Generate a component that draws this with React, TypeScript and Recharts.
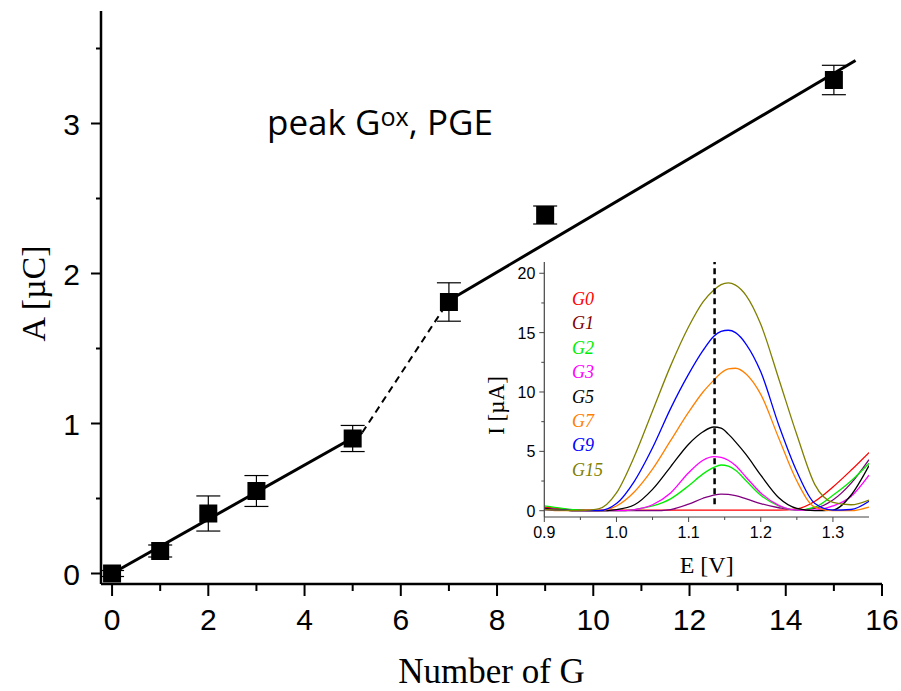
import React from 'react'
import {
  ComposedChart,
  LineChart,
  Line,
  Scatter,
  ErrorBar,
  XAxis,
  YAxis,
  Legend,
  ReferenceLine,
} from 'recharts'

// main panel: integrated charge of the G oxidation peak vs number of G
const numberOfG = [0, 1, 2, 3, 5, 7, 9, 15]
const charge = [0, 0.15, 0.4, 0.55, 0.9, 1.81, 2.39, 3.29]
const chargeErr = [0.02, 0.04, 0.117, 0.103, 0.087, 0.128, 0.06, 0.098]

// linear fits (two regimes joined by a dashed step)
const fitLowX = [0, 5.2]
const fitLowY = [0, 0.94]
const fitStepX = [5.2, 7]
const fitStepY = [0.94, 1.82]
const fitHighX = [7, 15.45]
const fitHighY = [1.82, 3.42]

const mainXTicks = [0, 1, 2, 3, 4, 5, 6, 7, 8, 9, 10, 11, 12, 13, 14, 15, 16]
const mainYTicks = [0, 0.5, 1, 1.5, 2, 2.5, 3, 3.5]

// inset: baseline-corrected voltammograms
const potential = [0.9, 0.925, 0.95, 0.975, 1.0, 1.025, 1.05, 1.075, 1.1, 1.12, 1.135, 1.145, 1.155, 1.165, 1.18, 1.2, 1.225, 1.25, 1.275, 1.3, 1.325, 1.35]
const curG0 = [0.3, 0.15, 0.06, 0.05, 0.05, 0.05, 0.05, 0.05, 0.05, 0.05, 0.05, 0.05, 0.05, 0.05, 0.05, 0.05, 0.05, 0.15, 0.8, 2.0, 3.4, 4.9]
const curG1 = [0.2, 0.1, 0.03, 0, 0, 0, 0, 0.1, 0.55, 1.05, 1.32, 1.4, 1.38, 1.28, 1.0, 0.6, 0.25, 0.05, 0.2, 0.9, 2.3, 4.3]
const curG2 = [0.4, 0.2, 0.05, 0, 0, 0.1, 0.4, 1.0, 2.1, 3.1, 3.65, 3.85, 3.75, 3.4, 2.5, 1.3, 0.4, 0.05, 0.3, 1.3, 2.5, 4.0]
const curG3 = [0.15, 0.05, 0, 0, 0, 0.1, 0.5, 1.5, 3.2, 4.25, 4.55, 4.5, 4.25, 3.8, 2.8, 1.5, 0.45, 0.05, 0.05, 0.4, 1.2, 3.0]
const curG5 = [0.2, 0.05, 0, 0, 0.1, 0.5, 1.8, 3.7, 5.6, 6.65, 7.05, 6.95, 6.45, 5.8, 4.7, 3.0, 1.1, 0.2, 0, 0.05, 1.3, 3.8]
const curG7 = [0.1, 0, 0, 0, 0.4, 1.6, 3.5, 5.9, 8.3, 10.0, 11.0, 11.6, 11.95, 12.0, 11.5, 9.8, 6.1, 2.5, 0.3, 0, 0, 0.3]
const curG9 = [0.1, 0.05, 0, 0, 0.6, 2.5, 5.3, 8.6, 11.5, 13.5, 14.7, 15.1, 15.2, 15.0, 14.0, 11.7, 7.2, 3.3, 0.6, 0.05, 0.1, 0.8]
const curG15 = [0.1, 0.05, 0, 0.15, 1.5, 4.6, 8.4, 12.2, 15.5, 17.6, 18.6, 19.05, 19.2, 19.0, 18.1, 15.7, 11.1, 6.4, 2.2, 0.7, 0.5, 0.9]

const seriesNames = ['G0', 'G1', 'G2', 'G3', 'G5', 'G7', 'G9', 'G15']
const seriesValues = [curG0, curG1, curG2, curG3, curG5, curG7, curG9, curG15]
const seriesColors = ['#ff0000', '#800080', '#00ee00', '#ff00ff', '#000000', '#ff8000', '#0000ff', '#808000']
const labelColors = ['#ff0000', '#800000', '#00ee00', '#ff00ff', '#000000', '#ff8000', '#0000ff', '#808000']

const peakPotential = 1.136
const insetXTicks = [0.9, 0.95, 1.0, 1.05, 1.1, 1.15, 1.2, 1.25, 1.3]
const insetYTicks = [0, 2.5, 5, 7.5, 10, 12.5, 15, 17.5, 20]

const SANS = '"Liberation Sans", Arial, sans-serif'
const SERIF = '"Liberation Serif", "Times New Roman", serif'

const mainPoints = numberOfG.map((x, i) => ({ x, y: charge[i], err: chargeErr[i] }))
const toXY = (xs: number[], ys: number[]) => xs.map((x, i) => ({ x, y: ys[i] }))

const insetData = potential.map((E, i) => {
  const row: Record<string, number> = { E }
  seriesNames.forEach((name, s) => {
    row[name] = seriesValues[s][i]
  })
  return row
})

// ---- tick renderers (tickSize 0 so x/y sit on the axis line) ----
const MainBottomTick = ({ x, y, payload }: any) => {
  const major = payload.value % 2 === 0
  return (
    <g>
      <line x1={x} x2={x} y1={y} y2={y + (major ? 12 : 7)} stroke="#000" strokeWidth={2} />
      {major && (
        <text x={x} y={y + 46} textAnchor="middle" fontSize={30} fontFamily={SANS} fill="#000">
          {payload.value}
        </text>
      )}
    </g>
  )
}

const MainLeftTick = ({ x, y, payload }: any) => {
  const major = Number.isInteger(payload.value)
  return (
    <g>
      <line x1={x - (major ? 10 : 5)} x2={x} y1={y} y2={y} stroke="#000" strokeWidth={2} />
      {major && (
        <text x={x - 21} y={y + 11} textAnchor="end" fontSize={30} fontFamily={SANS} fill="#000">
          {payload.value}
        </text>
      )}
    </g>
  )
}

const MainTopTick = ({ x, y }: any) => <line x1={x} x2={x} y1={y} y2={y + 5} stroke="#000" strokeWidth={1.5} />
const MainRightTick = ({ x, y }: any) => <line x1={x - 5} x2={x} y1={y} y2={y} stroke="#000" strokeWidth={1.5} />

const InsetBottomTick = ({ x, y, payload }: any) => {
  const major = Math.abs(payload.value * 10 - Math.round(payload.value * 10)) < 1e-6
  return (
    <g>
      <line x1={x} x2={x} y1={y} y2={y + (major ? 5 : 3)} stroke="#444" strokeWidth={1} />
      {major && (
        <text x={x} y={y + 21} textAnchor="middle" fontSize={16} fontFamily={SANS} fill="#000">
          {payload.value.toFixed(1)}
        </text>
      )}
    </g>
  )
}

const InsetLeftTick = ({ x, y, payload }: any) => {
  const major = payload.value % 5 === 0
  return (
    <g>
      <line x1={x - (major ? 5 : 3)} x2={x} y1={y} y2={y} stroke="#444" strokeWidth={1} />
      {major && (
        <text x={x - 9} y={y + 6} textAnchor="end" fontSize={16} fontFamily={SANS} fill="#000">
          {payload.value}
        </text>
      )}
    </g>
  )
}

const InsetTopTick = ({ x, y }: any) => <line x1={x} x2={x} y1={y} y2={y + 3} stroke="#444" strokeWidth={1} />
const InsetRightTick = ({ x, y }: any) => <line x1={x - 3} x2={x} y1={y} y2={y} stroke="#444" strokeWidth={1} />

const blank = () => <g />
const squareShape = ({ cx, cy }: any) => <rect x={cx - 9} y={cy - 9} width={18} height={18} fill="#000" />

const InsetLegend = ({ payload }: any) => {
  const items = [...(payload || [])].sort(
    (a: any, b: any) => seriesNames.indexOf(a.value) - seriesNames.indexOf(b.value)
  )
  return (
    <div style={{ fontFamily: SERIF, fontStyle: 'italic', fontSize: 18, lineHeight: '24.4px' }}>
      {items.map((item: any) => {
        const idx = seriesNames.indexOf(item.value)
        return (
          <div key={item.value} style={{ color: labelColors[idx] ?? item.color }}>
            {item.value}
          </div>
        )
      })}
    </div>
  )
}

export default function App() {
  return (
    <div style={{ position: 'absolute', left: 0, top: 0, width: 901, height: 691, background: '#fff' }}>
      <ComposedChart width={901} height={691} margin={{ top: 11, right: 19, bottom: 0, left: 0 }}>
        <XAxis
          dataKey="x"
          type="number"
          domain={[-0.23, 16]}
          ticks={mainXTicks}
          interval={0}
          allowDataOverflow
          height={107}
          tickSize={0}
          tickMargin={0}
          tick={MainBottomTick}
          axisLine={{ stroke: '#000', strokeWidth: 2.5 }}
          label={(props: any) => {
            const vb = props.viewBox
            return (
              <text x={vb.x + vb.width / 2} y={vb.y + 99} textAnchor="middle" fontSize={35} fontFamily={SERIF} fill="#000">
                Number of G
              </text>
            )
          }}
        />
        <XAxis
          xAxisId="top"
          orientation="top"
          type="number"
          domain={[-0.23, 16]}
          ticks={mainXTicks}
          interval={0}
          allowDataOverflow
          height={0}
          tickSize={0}
          tickMargin={0}
          tick={MainTopTick}
          axisLine={{ stroke: '#000', strokeWidth: 2 }}
        />
        <YAxis
          dataKey="y"
          type="number"
          domain={[-0.07, 3.75]}
          ticks={mainYTicks}
          interval={0}
          allowDataOverflow
          width={101}
          tickSize={0}
          tickMargin={0}
          tick={MainLeftTick}
          axisLine={{ stroke: '#000', strokeWidth: 2.5 }}
          label={(props: any) => {
            const vb = props.viewBox
            const cy = vb.y + vb.height / 2 - 4
            return (
              <text transform={`translate(45, ${cy}) rotate(-90)`} textAnchor="middle" fontSize={34} fontFamily={SERIF} fill="#000">
                A [µC]
              </text>
            )
          }}
        />
        <YAxis
          yAxisId="right"
          orientation="right"
          type="number"
          domain={[-0.07, 3.75]}
          ticks={mainYTicks}
          interval={0}
          allowDataOverflow
          width={0}
          tickSize={0}
          tickMargin={0}
          tick={MainRightTick}
          axisLine={{ stroke: '#000', strokeWidth: 2 }}
        />
        <Scatter data={toXY(fitLowX, fitLowY)} line={{ stroke: '#000', strokeWidth: 3 }} shape={blank} isAnimationActive={false} />
        <Scatter
          data={toXY(fitStepX, fitStepY)}
          line={{ stroke: '#000', strokeWidth: 2, strokeDasharray: '7 5' }}
          shape={blank}
          isAnimationActive={false}
        />
        <Scatter data={toXY(fitHighX, fitHighY)} line={{ stroke: '#000', strokeWidth: 3 }} shape={blank} isAnimationActive={false} />
        <Scatter data={mainPoints} shape={squareShape} fill="#000" isAnimationActive={false}>
          <ErrorBar dataKey="err" direction="y" width={12} stroke="#000" strokeWidth={1.2} />
        </Scatter>
      </ComposedChart>

      <div
        style={{
          position: 'absolute',
          left: 267,
          top: 104,
          fontFamily: '"Open Sans", sans-serif',
          fontSize: 35,
          lineHeight: 1,
          color: '#000',
          whiteSpace: 'nowrap',
        }}
      >
        peak G<span style={{ fontSize: '0.72em', position: 'relative', top: -9 }}>ox</span>, PGE
      </div>

      <div style={{ position: 'absolute', left: 470, top: 255 }}>
        <LineChart width={410} height={330} data={insetData} margin={{ top: 7, right: 11, bottom: 0, left: 0 }}>
          <XAxis
            dataKey="E"
            type="number"
            domain={[0.9, 1.35]}
            ticks={insetXTicks}
            interval={0}
            allowDataOverflow
            height={68}
            tickSize={0}
            tickMargin={0}
            tick={InsetBottomTick}
            axisLine={{ stroke: '#444', strokeWidth: 1.2 }}
            label={(props: any) => {
              const vb = props.viewBox
              return (
                <text x={vb.x + vb.width / 2} y={vb.y + 56} textAnchor="middle" fontSize={24} fontFamily={SERIF} fill="#000">
                  E [V]
                </text>
              )
            }}
          />
          <XAxis
            xAxisId="top"
            orientation="top"
            type="number"
            domain={[0.9, 1.35]}
            ticks={insetXTicks}
            interval={0}
            allowDataOverflow
            height={0}
            tickSize={0}
            tickMargin={0}
            tick={InsetTopTick}
            axisLine={{ stroke: '#444', strokeWidth: 1.2 }}
          />
          <YAxis
            type="number"
            domain={[-0.53, 20.95]}
            ticks={insetYTicks}
            interval={0}
            allowDataOverflow
            width={74.3}
            tickSize={0}
            tickMargin={0}
            tick={InsetLeftTick}
            axisLine={{ stroke: '#444', strokeWidth: 1.2 }}
            label={(props: any) => {
              const vb = props.viewBox
              const cy = vb.y + vb.height / 2 + 16
              return (
                <text transform={`translate(34, ${cy}) rotate(-90)`} textAnchor="middle" fontSize={23} fontFamily={SERIF} fill="#000">
                  I [µA]
                </text>
              )
            }}
          />
          <YAxis
            yAxisId="right"
            orientation="right"
            type="number"
            domain={[-0.53, 20.95]}
            ticks={insetYTicks}
            interval={0}
            allowDataOverflow
            width={0}
            tickSize={0}
            tickMargin={0}
            tick={InsetRightTick}
            axisLine={{ stroke: '#444', strokeWidth: 1.2 }}
          />
          {seriesNames.map((name, i) => (
            <Line
              key={name}
              dataKey={name}
              name={name}
              type="monotone"
              stroke={seriesColors[i]}
              strokeWidth={1.3}
              dot={false}
              activeDot={false}
              isAnimationActive={false}
            />
          ))}
          <ReferenceLine
            segment={[
              { x: peakPotential, y: 0.55 },
              { x: peakPotential, y: 20.95 },
            ]}
            stroke="#000"
            strokeWidth={2.5}
            strokeDasharray="6 4"
            ifOverflow="visible"
          />
          <Legend
            layout="horizontal"
            verticalAlign="middle"
            align="center"
            content={InsetLegend}
            wrapperStyle={{ left: 102, top: 32, width: 60 }}
          />
        </LineChart>
      </div>
    </div>
  )
}
